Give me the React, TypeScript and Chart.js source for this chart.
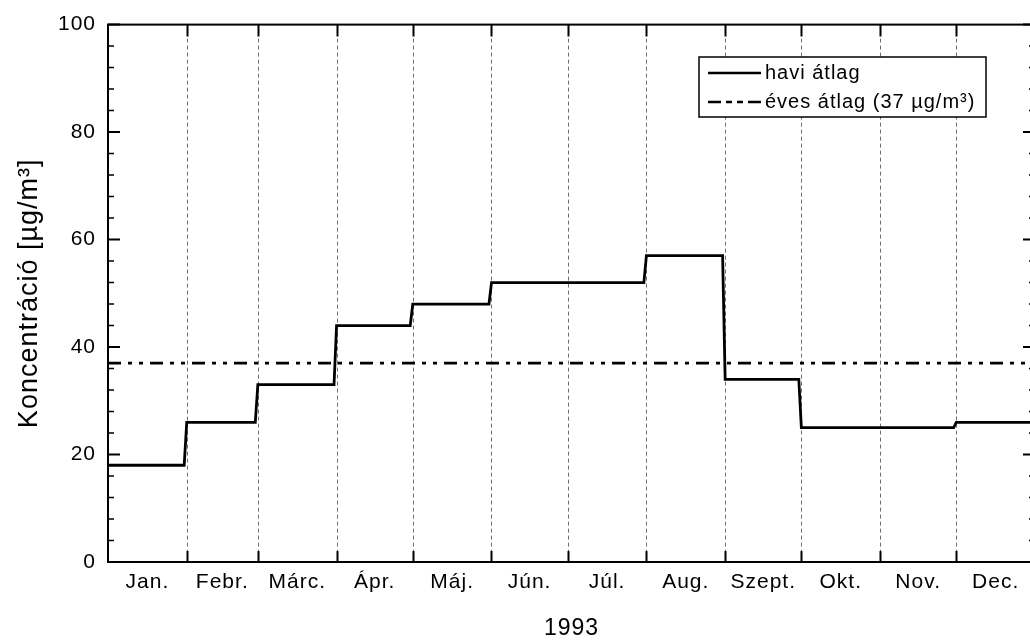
import React, { useEffect, useRef } from "react";
import { Chart, registerables } from "chart.js";

Chart.register(...registerables);

// Month boundaries (day of year) and labels
const monthStarts = [0, 31, 59, 90, 120, 151, 181, 212, 243, 273, 304, 334, 365];
const monthLabels = ["Jan.", "Febr.", "Márc.", "Ápr.", "Máj.", "Jún.", "Júl.", "Aug.", "Szept.", "Okt.", "Nov.", "Dec."];
// Monthly mean concentration (µg/m³)
const monthlyMeans = [18, 26, 33, 44, 48, 52, 52, 57, 34, 25, 25, 26];
const annualMean = 37;
const yTicks = [0, 20, 40, 60, 80, 100];
const seriesLabels = ["havi átlag", "éves átlag (37 µg/m³)"];

const FONT = "'Liberation Sans', Arial, Helvetica, sans-serif";

function buildStepPoints() {
  const pts: { x: number; y: number }[] = [];
  for (let i = 0; i < monthlyMeans.length; i++) {
    const s = monthStarts[i];
    const e = monthStarts[i + 1];
    pts.push({ x: s, y: monthlyMeans[i] });
    pts.push({ x: i === monthlyMeans.length - 1 ? e : e - 1, y: monthlyMeans[i] });
  }
  return pts;
}

const DASH_DOT = [13, 7, 4, 7, 4, 7];

const framePlugin = {
  id: "framePlugin",
  beforeDraw(chart: any) {
    try {
      (chart.ctx as any).letterSpacing = "1px";
    } catch (e) {}
  },
  beforeDatasetsDraw(chart: any) {
    const { ctx, chartArea, scales } = chart;
    const x = scales.x;
    ctx.save();
    ctx.strokeStyle = "#6f6f6f";
    ctx.lineWidth = 1;
    ctx.setLineDash([4, 3]);
    for (let i = 1; i < monthStarts.length - 1; i++) {
      const px = Math.round(x.getPixelForValue(monthStarts[i])) + 0.5;
      ctx.beginPath();
      ctx.moveTo(px, chartArea.top);
      ctx.lineTo(px, chartArea.bottom);
      ctx.stroke();
    }
    ctx.restore();
  },
  afterDatasetsDraw(chart: any) {
    const { ctx, chartArea, scales } = chart;
    const x = scales.x;
    const y = scales.y;
    const { left, right, top, bottom } = chartArea;
    ctx.save();
    ctx.strokeStyle = "#000";
    ctx.lineWidth = 2;
    ctx.setLineDash([]);
    ctx.strokeRect(left, top, right - left, bottom - top);
    // y ticks (inward, both sides)
    for (let v = 0; v <= 100; v += 4) {
      const py = y.getPixelForValue(v);
      const major = yTicks.includes(v);
      const len = major ? 12 : 6;
      ctx.lineWidth = major ? 2 : 1.5;
      ctx.beginPath();
      ctx.moveTo(left, py);
      ctx.lineTo(left + len, py);
      ctx.moveTo(right, py);
      ctx.lineTo(right - len, py);
      ctx.stroke();
    }
    // x ticks at month boundaries (inward, top and bottom)
    ctx.lineWidth = 2;
    for (let i = 1; i < monthStarts.length - 1; i++) {
      const px = Math.round(x.getPixelForValue(monthStarts[i])) + 0.5;
      ctx.beginPath();
      ctx.moveTo(px, bottom);
      ctx.lineTo(px, bottom - 11);
      ctx.moveTo(px, top);
      ctx.lineTo(px, top + 12);
      ctx.stroke();
    }
    ctx.restore();
  },
  afterDraw(chart: any) {
    const { ctx } = chart;
    ctx.save();
    // legend box
    const bx = 699, by = 57, bw = 287, bh = 60;
    ctx.fillStyle = "#fff";
    ctx.fillRect(bx, by, bw, bh);
    ctx.strokeStyle = "#000";
    ctx.lineWidth = 1.5;
    ctx.strokeRect(bx, by, bw, bh);
    const rows = [by + 16, by + 45];
    ctx.lineWidth = 2.5;
    ctx.beginPath();
    ctx.setLineDash([]);
    ctx.moveTo(708, rows[0]);
    ctx.lineTo(761, rows[0]);
    ctx.stroke();
    ctx.beginPath();
    ctx.setLineDash([13, 5, 6, 5, 6, 5]);
    ctx.moveTo(708, rows[1]);
    ctx.lineTo(761, rows[1]);
    ctx.stroke();
    ctx.setLineDash([]);
    ctx.fillStyle = "#000";
    ctx.font = `20px ${FONT}`;
    ctx.textBaseline = "middle";
    ctx.textAlign = "left";
    ctx.fillText(seriesLabels[0], 765, rows[0]);
    ctx.fillText(seriesLabels[1], 765, rows[1]);
    ctx.restore();
  },
};

export default function App() {
  const ref = useRef<HTMLCanvasElement>(null);
  useEffect(() => {
    if (!ref.current) return;
    const chart = new Chart(ref.current, {
      type: "line",
      data: {
        datasets: [
          {
            label: seriesLabels[0],
            data: buildStepPoints(),
            borderColor: "#000",
            borderWidth: 2.8,
            pointRadius: 0,
            tension: 0,
            fill: false,
          },
          {
            label: seriesLabels[1],
            data: [
              { x: monthStarts[0], y: annualMean },
              { x: monthStarts[monthStarts.length - 1], y: annualMean },
            ],
            borderColor: "#000",
            borderWidth: 2.6,
            borderDash: DASH_DOT,
            pointRadius: 0,
            fill: false,
          },
        ],
      },
      options: {
        responsive: false,
        animation: false,
        layout: { padding: { left: 0, right: 10, top: 20, bottom: 0 } },
        plugins: { legend: { display: false }, tooltip: { enabled: false } },
        scales: {
          x: {
            type: "linear",
            min: monthStarts[0],
            max: monthStarts[monthStarts.length - 1],
            grid: { display: false, drawTicks: false },
            border: { display: false },
            afterBuildTicks: (scale: any) => {
              scale.ticks = monthLabels.map((_, i) => ({
                value: (monthStarts[i] + monthStarts[i + 1]) / 2,
              }));
            },
            afterFit: (scale: any) => {
              scale.height = 83;
            },
            ticks: {
              autoSkip: false,
              maxRotation: 0,
              minRotation: 0,
              padding: 8,
              color: "#000",
              font: { family: FONT, size: 21 },
              callback: (_v: any, i: number) => monthLabels[i],
            },
            title: {
              display: true,
              text: "1993",
              color: "#000",
              font: { family: FONT, size: 23 },
              padding: { top: 0, bottom: 3 },
            },
          },
          y: {
            type: "linear",
            min: 0,
            max: 100,
            grid: { display: false, drawTicks: false },
            border: { display: false },
            afterBuildTicks: (scale: any) => {
              scale.ticks = yTicks.map((v) => ({ value: v }));
            },
            afterFit: (scale: any) => {
              scale.width = 108;
            },
            ticks: {
              padding: 12,
              color: "#000",
              font: { family: FONT, size: 21 },
            },
            title: {
              display: true,
              text: "Koncentráció [µg/m³]",
              color: "#000",
              font: { family: FONT, size: 27 },
              padding: { top: 13, bottom: 0 },
            },
          },
        },
      },
      plugins: [framePlugin],
    } as any);
    return () => chart.destroy();
  }, []);
  return (
    <div style={{ position: "absolute", left: 0, top: 0, width: 1030, height: 640, overflow: "hidden", background: "#fff" }}>
      <canvas ref={ref} width={1045} height={645} style={{ display: "block" }} />
    </div>
  );
}
